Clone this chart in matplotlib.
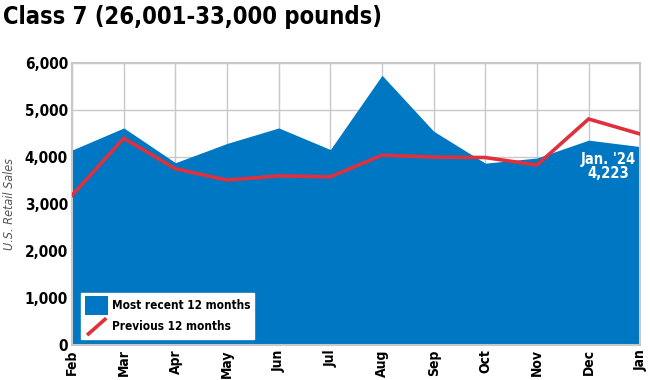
import matplotlib
matplotlib.use("Agg")
import matplotlib.pyplot as plt
from matplotlib.patches import Patch
from matplotlib.lines import Line2D
from matplotlib.legend_handler import HandlerBase

plt.rcParams["font.family"] = ["Liberation Sans Narrow", "DejaVu Sans"]
plt.rcParams["font.stretch"] = "condensed"

months = ["Feb", "Mar", "Apr", "May", "Jun", "Jul", "Aug", "Sep", "Oct", "Nov", "Dec", "Jan"]
recent = [4150, 4620, 3880, 4290, 4620, 4160, 5740, 4550, 3870, 3980, 4360, 4223]
previous = [3190, 4400, 3750, 3510, 3600, 3580, 4040, 4000, 3990, 3830, 4810, 4490]
yticks = [0, 1000, 2000, 3000, 4000, 5000, 6000]

BLUE = "#0077C2"
RED = "#E0303C"


class DiagonalLine(HandlerBase):
    # legend swatch drawn as a slanted stroke, like the original
    def create_artists(self, legend, orig, xd, yd, w, h, fontsize, trans):
        x0, y0 = -xd, -yd
        ln = Line2D([x0 + 0.15 * w, x0 + 0.85 * w], [y0 + 0.1 * h, y0 + 0.9 * h],
                    color=orig.get_color(), lw=orig.get_linewidth(), transform=trans)
        return [ln]


fig = plt.figure(figsize=(6.5, 3.8), dpi=100)
ax = fig.add_axes([0.111, 0.092, 0.874, 0.742])

x = list(range(len(months)))
ax.fill_between(x, recent, 0, color=BLUE, lw=0, zorder=2)
ax.plot(x, previous, color=RED, lw=2.6, zorder=3, solid_joinstyle="miter")

ax.set_xlim(0, len(months) - 1)
ax.set_ylim(0, 6000)
ax.set_yticks(yticks)
ax.set_yticklabels([f"{v:,}" for v in yticks], fontsize=11, fontweight="bold")
ax.set_xticks(x)
ax.set_xticklabels(months, rotation=90, fontsize=10, fontweight="bold")
ax.tick_params(length=0, pad=3)
ax.grid(True, color="#c8c8c8", lw=1, zorder=1)
for s in ax.spines.values():
    s.set_color("#c8c8c8")
    s.set_linewidth(1.5)

ax.set_ylabel("U.S. Retail Sales", fontstyle="italic", fontsize=9, color="#555555", labelpad=6)

ax.text(10.38, recent[-1] - 110, "Jan. '24\n4,223", color="white",
        fontsize=10.5, fontweight="bold", ha="center", va="top", linespacing=0.95, zorder=4)

red_handle = Line2D([0], [0], color=RED, lw=2.6)
handles = [Patch(facecolor=BLUE, edgecolor="none"), red_handle]
leg = ax.legend(handles, ["Most recent 12 months", "Previous 12 months"], loc="lower left",
                bbox_to_anchor=(0.012, 0.012), frameon=True, fancybox=False,
                handlelength=2.0, handleheight=2.0, handletextpad=0.3, labelspacing=0.25,
                borderpad=0.3, borderaxespad=0.2,
                handler_map={red_handle: DiagonalLine()},
                prop={"weight": "bold", "size": 8.5, "stretch": "condensed"})
leg.get_frame().set_edgecolor("white")
leg.get_frame().set_alpha(1)
leg.set_zorder(5)

fig.text(0.005, 0.955, "Class 7 (26,001-33,000 pounds)", fontsize=17, fontweight="bold",
         ha="left", va="center")

fig.savefig("out.png", dpi=100)
